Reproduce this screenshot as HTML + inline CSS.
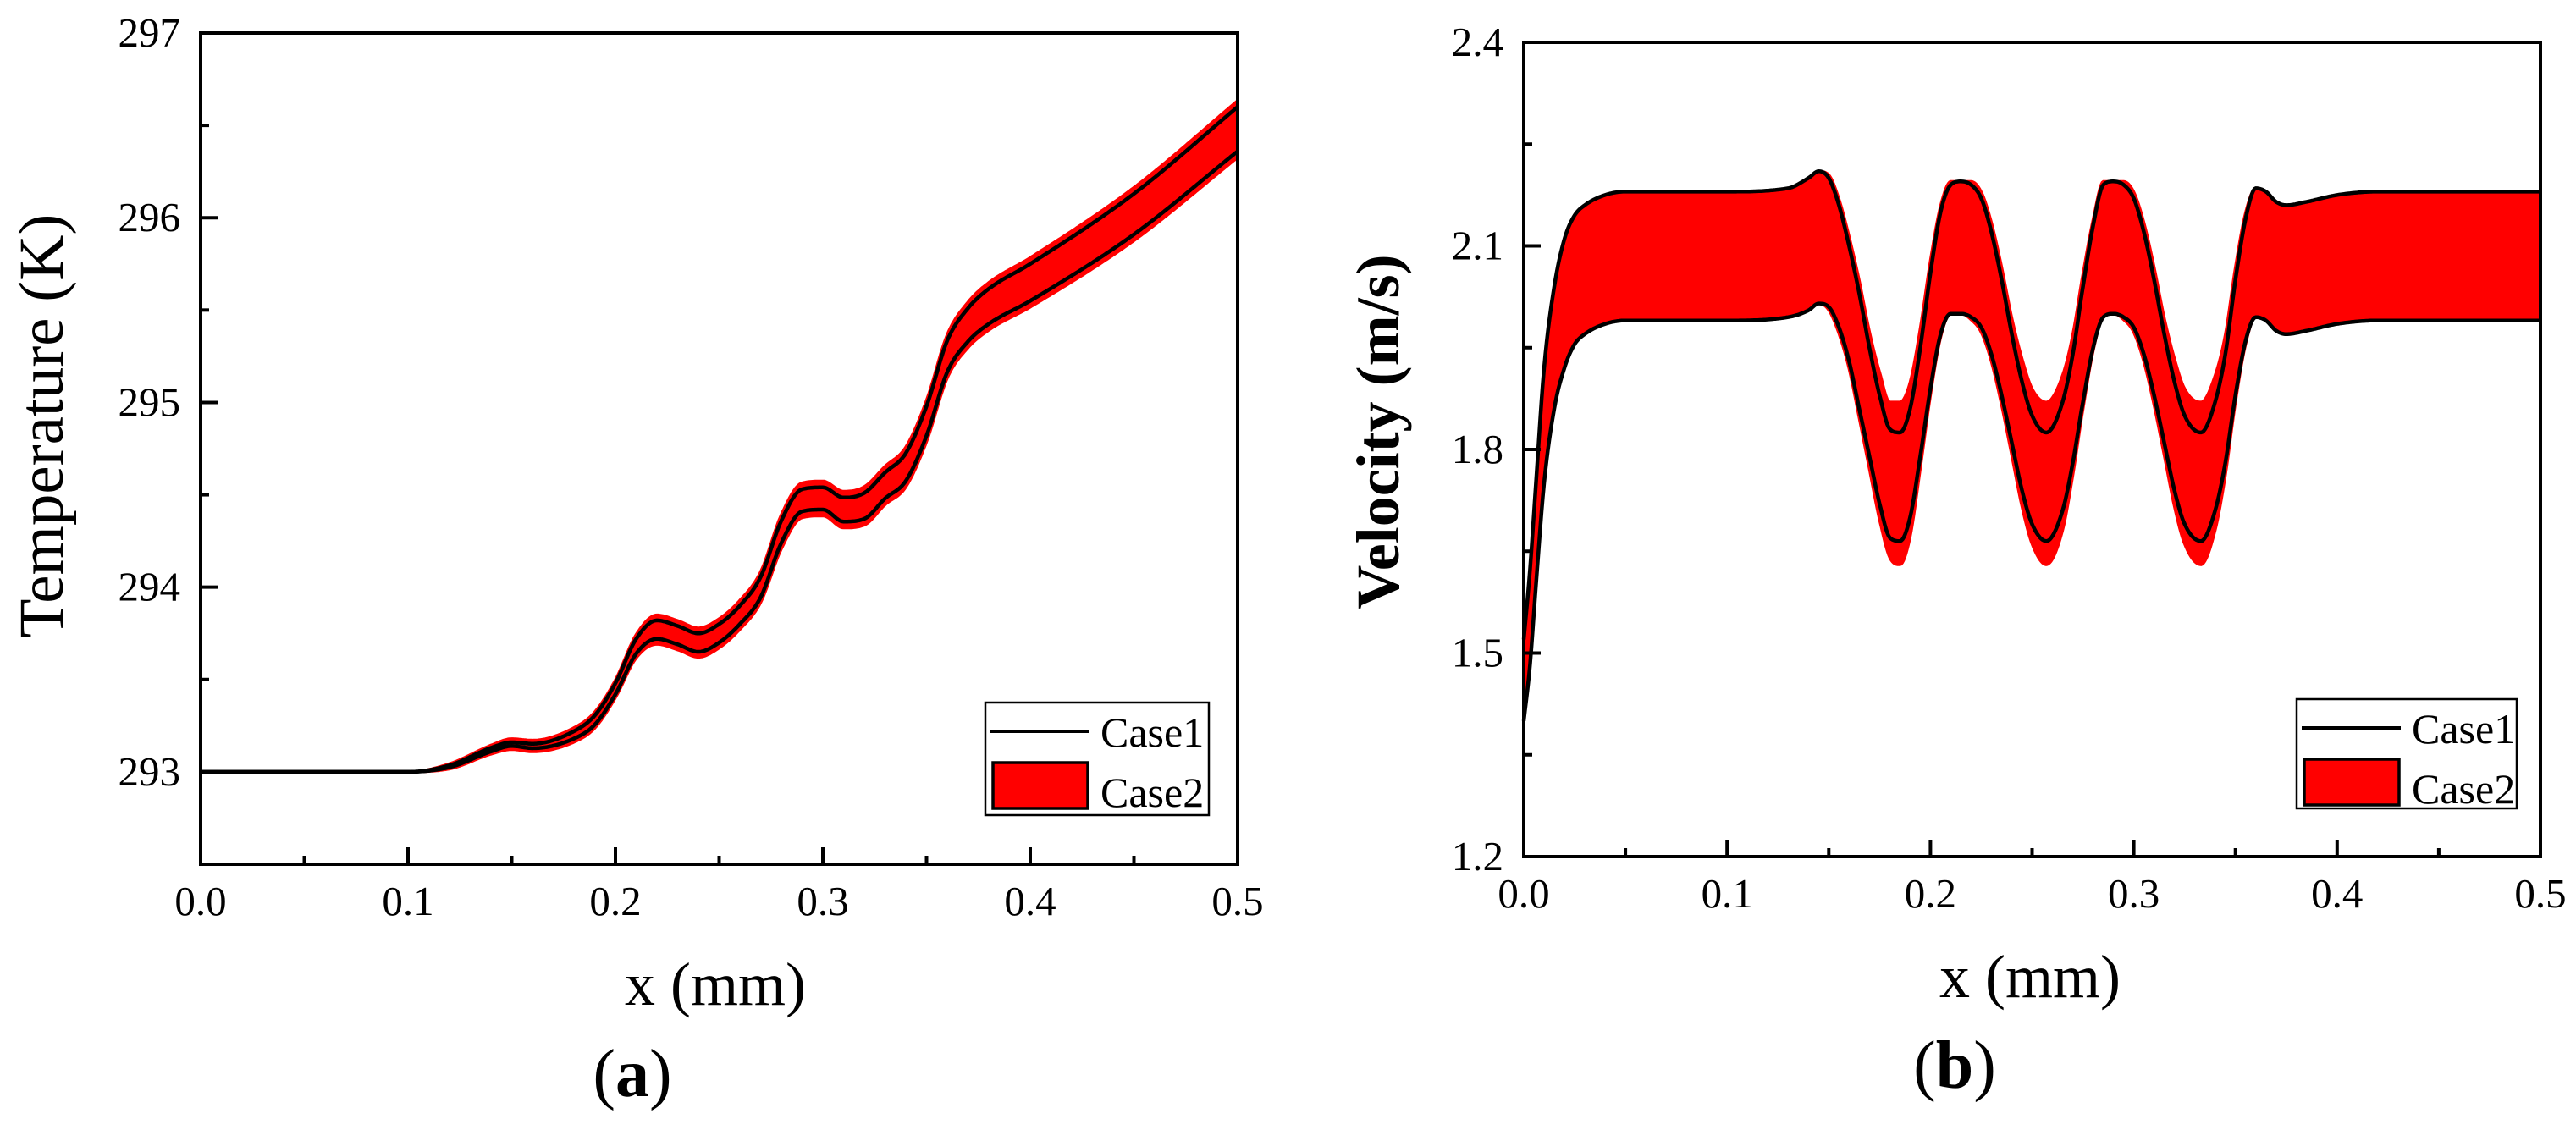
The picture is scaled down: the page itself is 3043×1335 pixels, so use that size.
<!DOCTYPE html>
<html><head><meta charset="utf-8"><style>
html,body{margin:0;padding:0;background:#fff}
svg{display:block}
text{font-family:"Liberation Serif",serif;fill:#000}
</style></head><body>
<svg id="fig" width="3043" height="1335" viewBox="0 0 3043 1335"></svg>
<script>
// Panel (a) data
const tX=[0,0.1,0.12,0.14,0.15,0.16,0.18,0.19,0.2,0.21,0.22,0.23,0.24,0.25,0.26,0.27,0.28,0.29,0.3,0.31,0.32,0.33,0.34,0.35,0.36,0.37,0.38,0.4,0.45,0.5];
const tMid=[293,293,293.03,293.12,293.15,293.14,293.2,293.28,293.45,293.68,293.77,293.74,293.7,293.75,293.85,294.0,294.3,294.47,294.48,294.42,294.44,294.55,294.65,294.9,295.25,295.42,295.52,295.65,296.02,296.48];
const tHalf=[0,0,0.005,0.01,0.01,0.012,0.02,0.025,0.03,0.04,0.05,0.05,0.05,0.05,0.05,0.055,0.06,0.06,0.06,0.065,0.07,0.07,0.075,0.08,0.085,0.09,0.095,0.1,0.11,0.12];
const tRedExtra=[0,0,0.01,0.015,0.02,0.02,0.02,0.02,0.02,0.025,0.03,0.03,0.03,0.03,0.03,0.03,0.035,0.035,0.035,0.035,0.035,0.035,0.035,0.035,0.035,0.035,0.035,0.035,0.035,0.035];
const tTicks=[293,294,295,296,297];
const xTicks=[0.0,0.1,0.2,0.3,0.4,0.5];
// Panel (b) data
const vX=[0,0.003,0.006,0.01,0.015,0.02,0.025,0.03,0.04,0.05,0.1,0.13,0.14,0.145,0.15,0.155,0.16,0.165,0.17,0.175,0.18,0.185,0.19,0.195,0.2,0.205,0.21,0.215,0.22,0.225,0.23,0.235,0.24,0.245,0.25,0.257,0.265,0.27,0.275,0.28,0.285,0.29,0.295,0.3,0.305,0.31,0.315,0.32,0.325,0.333,0.34,0.345,0.35,0.355,0.36,0.365,0.37,0.375,0.385,0.4,0.42,0.5];
const vUp=[1.52,1.62,1.75,1.92,2.04,2.11,2.145,2.16,2.175,2.18,2.18,2.185,2.2,2.21,2.2,2.16,2.1,2.03,1.95,1.88,1.83,1.825,1.86,1.95,2.06,2.15,2.19,2.195,2.19,2.17,2.12,2.05,1.97,1.9,1.85,1.825,1.87,1.94,2.04,2.13,2.19,2.195,2.19,2.17,2.12,2.05,1.97,1.9,1.85,1.825,1.87,1.94,2.05,2.14,2.185,2.18,2.165,2.16,2.165,2.175,2.18,2.18];
const vLo=[1.40,1.48,1.6,1.75,1.86,1.92,1.955,1.97,1.985,1.99,1.99,1.995,2.005,2.015,2.01,1.98,1.93,1.86,1.79,1.72,1.67,1.665,1.7,1.79,1.89,1.97,2.0,2.0,1.995,1.98,1.94,1.88,1.81,1.74,1.69,1.665,1.71,1.78,1.87,1.95,1.995,2.0,1.995,1.98,1.94,1.88,1.81,1.74,1.69,1.665,1.71,1.78,1.88,1.96,1.995,1.99,1.975,1.97,1.975,1.985,1.99,1.99];
const vUpSpread=[0,0,0,0,0,0,0,0,0,0,0,0,0,0,0.005,0.01,0.015,0.02,0.025,0.035,0.04,0.045,0.04,0.03,0.02,0.01,0.005,0,0.005,0.01,0.015,0.02,0.025,0.035,0.04,0.045,0.04,0.03,0.02,0.01,0.005,0,0.005,0.01,0.015,0.02,0.025,0.035,0.04,0.045,0.04,0.03,0.02,0.01,0,0,0,0,0,0,0,0];
const vLoSpread=[0,0,0,0,0,0,0,0,0,0,0,0,0,0,0.005,0.01,0.012,0.015,0.02,0.025,0.03,0.035,0.03,0.02,0.012,0.006,0,0,0.004,0.008,0.012,0.016,0.02,0.025,0.03,0.035,0.03,0.02,0.012,0.006,0,0,0.004,0.008,0.012,0.016,0.02,0.025,0.03,0.035,0.03,0.02,0.012,0.006,0,0,0,0,0,0,0,0];
const vTicks=[1.2,1.5,1.8,2.1,2.4];

const NS="http://www.w3.org/2000/svg";
const svg=document.getElementById('fig');
function mk(tag,attrs,parent){const e=document.createElementNS(NS,tag);for(const k in attrs)e.setAttribute(k,attrs[k]);(parent||svg).appendChild(e);return e;}
// monotone cubic interpolation
function mono(xs,ys){const n=xs.length,d=[],m=new Array(n);
 for(let i=0;i<n-1;i++)d.push((ys[i+1]-ys[i])/(xs[i+1]-xs[i]));
 m[0]=d[0];m[n-1]=d[n-2];
 for(let i=1;i<n-1;i++){m[i]=(d[i-1]*d[i]<=0)?0:(d[i-1]+d[i])/2;}
 for(let i=0;i<n-1;i++){if(d[i]===0){m[i]=0;m[i+1]=0;continue;}const a=m[i]/d[i],b=m[i+1]/d[i],s=a*a+b*b;if(s>9){const t=3/Math.sqrt(s);m[i]=t*a*d[i];m[i+1]=t*b*d[i];}}
 return x=>{let i=0;while(i<n-2&&x>xs[i+1])i++;const h=xs[i+1]-xs[i],t=(x-xs[i])/h,t2=t*t,t3=t2*t;
  return (2*t3-3*t2+1)*ys[i]+(t3-2*t2+t)*h*m[i]+(-2*t3+3*t2)*ys[i+1]+(t3-t2)*h*m[i+1];};}
function sample(xs,ys,sx,sy){const f=mono(xs,ys),pts=[];for(let k=0;k<=800;k++){const x=xs[0]+(xs[xs.length-1]-xs[0])*k/800;pts.push([sx(x),sy(f(x))]);}return pts;}
function pd(pts){return 'M'+pts.map(p=>p[0].toFixed(1)+','+p[1].toFixed(1)).join(' L');}

function panel(o){
 const g=mk('g',{});
 
 
 const sx=v=>o.L+(v-0)/(0.5)*(o.R-o.L);
 const sy=v=>o.B-(v-o.y0)/(o.y1-o.y0)*(o.B-o.T);
 const up=sample(o.xs,o.redUp,sx,sy), lo=sample(o.xs,o.redLo,sx,sy);
 const band=mk('path',{d:pd(up)+' L'+lo.reverse().map(p=>p[0].toFixed(1)+','+p[1].toFixed(1)).join(' L')+' Z',fill:'#ff0000',stroke:'#ff0000','stroke-width':3},g);
 
 
 const l1=mk('path',{d:pd(sample(o.xs,o.up,sx,sy)),fill:'none',stroke:'#000','stroke-width':4.5},g);
 
 
 const l2=mk('path',{d:pd(sample(o.xs,o.lo,sx,sy)),fill:'none',stroke:'#000','stroke-width':4.5},g);
 
 
 const fr=mk('rect',{x:o.L,y:o.T,width:o.R-o.L,height:o.B-o.T,fill:'none',stroke:'#000','stroke-width':4},g);
 
 
 for(let i=0;i<=10;i++){const v=i*0.05,X=sx(v),len=i%2?10:20;
  mk('line',{x1:X,x2:X,y1:o.B,y2:o.B-len,stroke:'#000','stroke-width':4},g);}
 xTicks.forEach(v=>{const t=mk('text',{x:sx(v),y:o.B+60,'text-anchor':'middle','font-size':49},g);t.textContent=v.toFixed(1);
  
  });
 const step=o.yt[1]-o.yt[0];
 for(let v=o.y0;v<=o.y1+1e-9;v+=step/2){const Y=sy(v);const major=o.yt.some(t=>Math.abs(t-v)<1e-6);
  mk('line',{x1:o.L,x2:o.L+(major?20:10),y1:Y,y2:Y,stroke:'#000','stroke-width':4},g);}
 o.yt.forEach(v=>{const t=mk('text',{x:o.L-24,y:sy(v)+16,'text-anchor':'end','font-size':49},g);t.textContent=v.toFixed(o.dec);
  
  });
 const yt=mk('text',{x:0,y:0,'text-anchor':'middle','font-size':o.ytfs,'font-weight':o.ybold?'bold':'normal',transform:`translate(${o.ytx},${o.yty}) rotate(-90)`},g);yt.textContent=o.ytitle;
 
 
 const xt=mk('text',{x:o.xtx,y:o.xty,'text-anchor':'middle','font-size':72},g);xt.textContent='x (mm)';
 
 
 const lab=mk('text',{x:o.labx,y:o.laby,'text-anchor':'middle','font-size':80},g);
 lab.innerHTML='(<tspan font-weight="bold">'+o.lab+'</tspan>)';
 
 
 const lg=mk('g',{},g);
 
 
 const b=o.leg;
 mk('rect',{x:b.x,y:b.y,width:b.w,height:b.h,fill:'#fff',stroke:'#000','stroke-width':2.5},lg);
 const e1=mk('line',{x1:b.x+6,x2:b.x+123,y1:b.y+34,y2:b.y+34,stroke:'#000','stroke-width':4},lg);
 
 
 const t1=mk('text',{x:b.x+136,y:b.y+52,'font-size':50},lg);t1.textContent='Case1';
 const e2=mk('rect',{x:b.x+9,y:b.y+71,width:112,height:54,fill:'#ff0000',stroke:'#000','stroke-width':3.5},lg);
 
 
 const t2=mk('text',{x:b.x+136,y:b.y+123,'font-size':50},lg);t2.textContent='Case2';
}
panel({name:'temperature-panel',L:237,R:1462,T:39,B:1021,y0:292.5,y1:297,yt:tTicks,dec:0,
 xs:tX,up:tMid.map((m,i)=>m+tHalf[i]),lo:tMid.map((m,i)=>m-tHalf[i]),
 redUp:tMid.map((m,i)=>m+tHalf[i]+tRedExtra[i]),redLo:tMid.map((m,i)=>m-tHalf[i]-tRedExtra[i]),
 ytitle:'Temperature (K)',ytfs:75,ytx:74,yty:503,ybold:false,xtx:845,xty:1187,lab:'a',labx:747,laby:1295,
 leg:{x:1164,y:830,w:264,h:133}});
panel({name:'velocity-panel',L:1800,R:3001,T:50,B:1012,y0:1.2,y1:2.4,yt:vTicks,dec:1,
 xs:vX,up:vUp,lo:vLo,redUp:vUp.map((v,i)=>v+vUpSpread[i]),redLo:vLo.map((v,i)=>v-vLoSpread[i]),
 ytitle:'Velocity (m/s)',ytfs:72,ytx:1652,yty:510,ybold:true,xtx:2398,xty:1178,lab:'b',labx:2309,laby:1285,
 leg:{x:2713,y:826,w:260,h:129}});
</script>
</body></html>
